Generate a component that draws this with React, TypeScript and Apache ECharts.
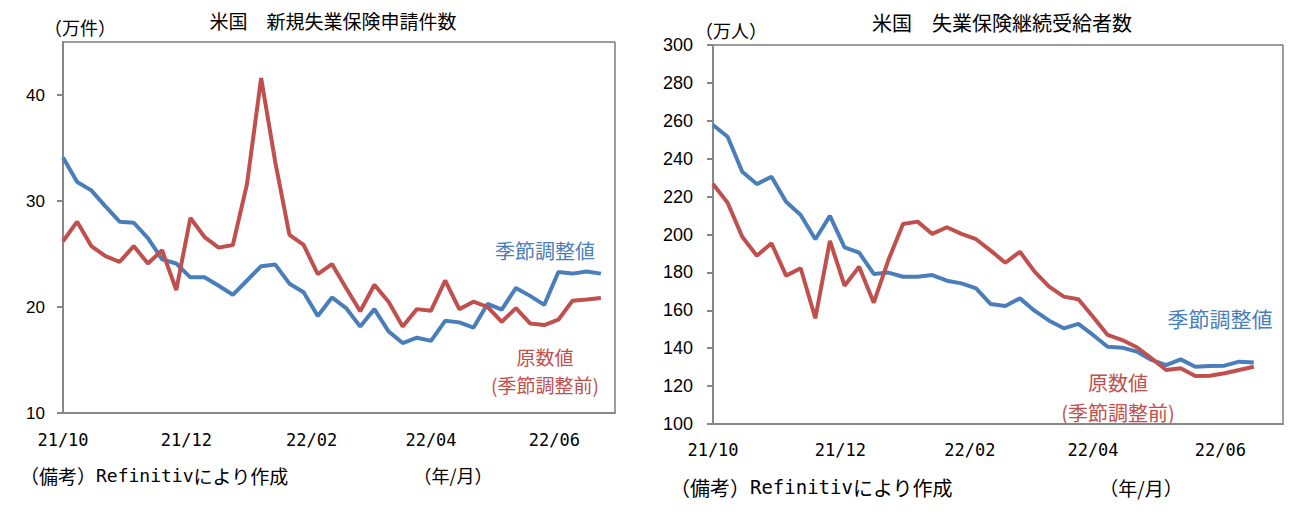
import React, { useEffect, useRef } from "react";
import * as echarts from "echarts";

// Weekly dates (week ending)
const WEEKS = [
  "2021-10-02", "2021-10-09", "2021-10-16", "2021-10-23", "2021-10-30",
  "2021-11-06", "2021-11-13", "2021-11-20", "2021-11-27",
  "2021-12-04", "2021-12-11", "2021-12-18", "2021-12-25",
  "2022-01-01", "2022-01-08", "2022-01-15", "2022-01-22", "2022-01-29",
  "2022-02-05", "2022-02-12", "2022-02-19", "2022-02-26",
  "2022-03-05", "2022-03-12", "2022-03-19", "2022-03-26",
  "2022-04-02", "2022-04-09", "2022-04-16", "2022-04-23", "2022-04-30",
  "2022-05-07", "2022-05-14", "2022-05-21", "2022-05-28",
  "2022-06-04", "2022-06-11", "2022-06-18", "2022-06-25",
];

// Left: initial claims (万件)
const CLAIMS_SA = [
  34.1, 31.8, 31.0, 29.5, 28.05, 27.95, 26.5, 24.5, 24.1, 22.8,
  22.8, 22.0, 21.15, 22.5, 23.85, 24.0, 22.2, 21.4, 19.15, 20.9,
  19.9, 18.15, 19.8, 17.7, 16.6, 17.1, 16.8, 18.7, 18.55, 18.05,
  20.3, 19.75, 21.8, 21.05, 20.2, 23.3, 23.15, 23.35, 23.15,
];
const CLAIMS_NSA = [
  26.2, 28.05, 25.75, 24.8, 24.25, 25.75, 24.1, 25.35, 21.6, 28.4,
  26.6, 25.6, 25.85, 31.6, 41.6, 33.65, 26.8, 25.85, 23.1, 24.05,
  21.8, 19.6, 22.1, 20.5, 18.15, 19.8, 19.65, 22.5, 19.8, 20.5,
  20.0, 18.6, 19.9, 18.45, 18.3, 18.8, 20.6, 20.7, 20.85,
];

// Right: continuing claims (万人), weeks ending Oct 2 .. Jun 18
const CONT_SA = [
  257.8, 251.6, 233.1, 226.6, 230.5, 217.3, 210.3, 197.5, 209.8, 193.2,
  190.4, 179.2, 179.9, 177.7, 177.7, 178.6, 175.6, 174.2, 171.6, 163.3,
  162.3, 166.3, 159.8, 154.5, 150.5, 152.8, 147.0, 140.8, 140.3, 138.2,
  133.8, 131.1, 134.1, 130.2, 130.6, 130.8, 132.9, 132.4,
];
const CONT_NSA = [
  226.6, 216.8, 198.8, 188.8, 195.4, 178.3, 182.2, 155.8, 196.7, 173.0,
  183.0, 164.0, 186.5, 205.5, 206.8, 200.3, 203.8, 200.3, 197.5, 191.5,
  185.1, 190.9, 180.4, 172.5, 167.2, 165.8, 156.6, 147.0, 144.3, 140.5,
  134.7, 128.5, 129.4, 125.3, 125.5, 126.8, 128.5, 130.2,
];

const AXIS_START = "2021-10-02";
const AXIS_END = "2022-07-02";
const X_LABEL_DATES = ["2021-10-02", "2021-12-02", "2022-02-02", "2022-04-02", "2022-06-02"];
const X_LABELS = ["21/10", "21/12", "22/02", "22/04", "22/06"];

const LEFT_Y_TICKS = [10, 20, 30, 40];
const RIGHT_Y_TICKS = [100, 120, 140, 160, 180, 200, 220, 240, 260, 280, 300];

const BLUE = "#4a7ebb";
const RED = "#c0504d";
const CJK = "'Noto Sans CJK JP', sans-serif";
const MONO = "'DejaVu Sans Mono', 'Liberation Mono', monospace";
const SANS = "'Liberation Sans', Arial, sans-serif";

const ts = (d: string) => {
  const [y, m, dd] = d.split("-").map(Number);
  return Date.UTC(y, m - 1, dd);
};

const pairs = (vals: number[]) => vals.map((v, i) => [ts(WEEKS[i]), v]);

const labelMap: Record<number, string> = {};
X_LABEL_DATES.forEach((d, i) => (labelMap[ts(d)] = X_LABELS[i]));

function xAxis(gridIndex: number, margin: number, fontSize: number) {
  return {
    type: "value",
    gridIndex,
    min: ts(AXIS_START),
    max: ts(AXIS_END),
    splitLine: { show: false },
    axisTick: { show: false },
    axisLine: { show: true, lineStyle: { color: "#878787", width: 2 } },
    axisLabel: {
      customValues: X_LABEL_DATES.map(ts),
      formatter: (v: number) => labelMap[v] ?? "",
      color: "#000",
      fontFamily: MONO,
      fontSize,
      margin,
      showMinLabel: true,
      showMaxLabel: true,
    },
  };
}

export default function App() {
  const ref = useRef<HTMLDivElement>(null);
  useEffect(() => {
    if (!ref.current) return;
    const chart = echarts.init(ref.current, undefined, { renderer: "svg" });
    const noteRich = (size: number, mono: number) => ({
      a: { fontFamily: CJK, fontSize: size, fill: "#000" },
      b: { fontFamily: MONO, fontSize: mono, fill: "#000" },
    });
    chart.setOption({
      animation: false,
      backgroundColor: "#fff",
      grid: [
        { left: 63, top: 42, width: 552, height: 371, show: true, borderColor: "#3a3a3a", borderWidth: 1, containLabel: false },
        { left: 713, top: 45, width: 570, height: 379, show: true, borderColor: "#3a3a3a", borderWidth: 1, containLabel: false },
      ],
      xAxis: [xAxis(0, 18, 17), xAxis(1, 17, 17)],
      yAxis: [
        {
          type: "value",
          gridIndex: 0,
          min: 10,
          max: 45,
          interval: 10,
          splitLine: { show: false },
          axisLine: { show: true, lineStyle: { color: "#878787", width: 2 } },
          axisTick: { show: true, inside: false, length: 6, customValues: LEFT_Y_TICKS, lineStyle: { color: "#878787", width: 2 } },
          axisLabel: { customValues: LEFT_Y_TICKS, color: "#000", fontFamily: SANS, fontSize: 17, margin: 18 },
        },
        {
          type: "value",
          gridIndex: 1,
          min: 100,
          max: 300,
          interval: 20,
          splitLine: { show: false },
          axisLine: { show: true, lineStyle: { color: "#878787", width: 2 } },
          axisTick: { show: true, inside: false, length: 6, customValues: RIGHT_Y_TICKS, lineStyle: { color: "#878787", width: 2 } },
          axisLabel: { customValues: RIGHT_Y_TICKS, color: "#000", fontFamily: SANS, fontSize: 18, margin: 20 },
        },
      ],
      series: [
        { name: "季節調整値", type: "line", xAxisIndex: 0, yAxisIndex: 0, data: pairs(CLAIMS_SA), showSymbol: false, lineStyle: { color: BLUE, width: 4 }, itemStyle: { color: BLUE } },
        { name: "原数値", type: "line", xAxisIndex: 0, yAxisIndex: 0, data: pairs(CLAIMS_NSA), showSymbol: false, lineStyle: { color: RED, width: 4 }, itemStyle: { color: RED } },
        { name: "季節調整値", type: "line", xAxisIndex: 1, yAxisIndex: 1, data: pairs(CONT_SA), showSymbol: false, lineStyle: { color: BLUE, width: 4 }, itemStyle: { color: BLUE } },
        { name: "原数値", type: "line", xAxisIndex: 1, yAxisIndex: 1, data: pairs(CONT_NSA), showSymbol: false, lineStyle: { color: RED, width: 4 }, itemStyle: { color: RED } },
      ],
      graphic: [
        // Left chart texts
        { type: "text", x: 333, y: 20, style: { text: "米国　新規失業保険申請件数", fontFamily: CJK, fontSize: 19, fill: "#000", align: "center", verticalAlign: "middle" } },
        { type: "text", x: 80, y: 27, style: { text: "（万件）", fontFamily: CJK, fontSize: 18, fill: "#000", align: "center", verticalAlign: "middle" } },
        { type: "text", x: 545, y: 250, style: { text: "季節調整値", fontFamily: CJK, fontSize: 20, fill: BLUE, align: "center", verticalAlign: "middle" } },
        { type: "text", x: 545, y: 356, style: { text: "原数値", fontFamily: CJK, fontSize: 19, fill: RED, align: "center", verticalAlign: "middle" } },
        { type: "text", x: 545, y: 384, style: { text: "(季節調整前)", fontFamily: CJK, fontSize: 19, fill: RED, align: "center", verticalAlign: "middle" } },
        { type: "text", x: 20, y: 475, style: { text: "{a|（備考）}{b|Refinitiv}{a|により作成}", rich: noteRich(19, 18), align: "left", verticalAlign: "middle" } },
        { type: "text", x: 453, y: 475, style: { text: "（年/月）", fontFamily: CJK, fontSize: 18, fill: "#000", align: "center", verticalAlign: "middle" } },
        // Right chart texts
        { type: "text", x: 1002, y: 22, style: { text: "米国　失業保険継続受給者数", fontFamily: CJK, fontSize: 20, fill: "#000", align: "center", verticalAlign: "middle" } },
        { type: "text", x: 731, y: 30, style: { text: "（万人）", fontFamily: CJK, fontSize: 18, fill: "#000", align: "center", verticalAlign: "middle" } },
        { type: "text", x: 1220, y: 318, style: { text: "季節調整値", fontFamily: CJK, fontSize: 21, fill: BLUE, align: "center", verticalAlign: "middle" } },
        { type: "text", x: 1118, y: 382, style: { text: "原数値", fontFamily: CJK, fontSize: 20, fill: RED, align: "center", verticalAlign: "middle" } },
        { type: "text", x: 1118, y: 412, style: { text: "(季節調整前)", fontFamily: CJK, fontSize: 20, fill: RED, align: "center", verticalAlign: "middle" } },
        { type: "text", x: 670, y: 487, style: { text: "{a|（備考）}{b|Refinitiv}{a|により作成}", rich: noteRich(20, 19), align: "left", verticalAlign: "middle" } },
        { type: "text", x: 1141, y: 487, style: { text: "（年/月）", fontFamily: CJK, fontSize: 19, fill: "#000", align: "center", verticalAlign: "middle" } },
      ],
    });
    return () => chart.dispose();
  }, []);
  return (
    <div
      ref={ref}
      style={{ position: "absolute", left: 0, top: 0, width: 1302, height: 518, background: "#fff" }}
    />
  );
}
